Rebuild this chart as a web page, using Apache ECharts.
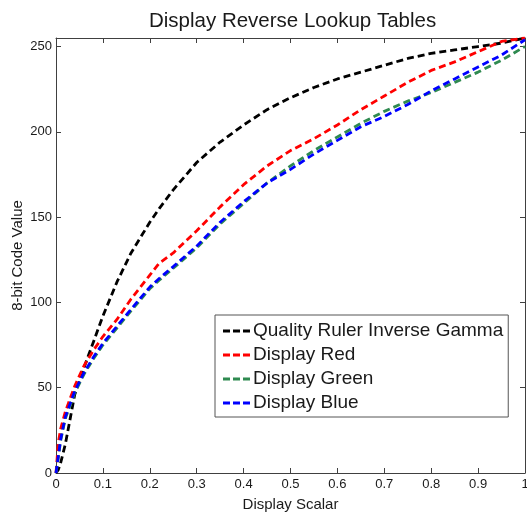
<!DOCTYPE html>
<html>
<head>
<meta charset="utf-8">
<script src="https://cdn.jsdelivr.net/npm/echarts@6/dist/echarts.min.js"></script>
<style>
  html, body { margin: 0; padding: 0; background: #fff; }
  #chart { width: 527px; height: 513px; }
</style>
</head>
<body>
<div id="chart"></div>
<script>
// display scalar (x) values shared by all curves
var scalar = [0, 0.005, 0.01, 0.02, 0.04, 0.06, 0.08, 0.1, 0.13, 0.16, 0.2, 0.22, 0.25, 0.3,
  0.35, 0.4, 0.45, 0.5, 0.55, 0.6, 0.65, 0.7, 0.75, 0.8, 0.85, 0.9, 0.95, 1];

// 8-bit code values
var gammaInv = [0, 2, 6, 17, 46, 62, 77, 92, 112, 129, 147, 155, 166, 182,
  194, 204, 213, 220, 226, 231, 235, 239, 243, 246, 248, 250, 252, 255];
var red = [0, 18, 26, 36, 51, 63, 72, 80, 90, 102, 116, 123, 129, 142,
  156, 169, 180, 189, 196, 204, 213, 221, 229, 236, 241, 247, 253, 255];
var green = [0, 9, 19, 32, 47, 58, 67, 75, 85, 95, 108, 113, 120, 132,
  146, 158, 170, 180, 189, 197, 205, 212, 218, 223, 229, 235, 242, 250];
var blue = [0, 10, 20, 33, 48, 59, 68, 76, 86, 96, 109, 114, 121, 133,
  147, 159, 170, 178, 187, 195, 203, 209, 216, 224, 231, 238, 245, 254];

var names = ['Quality Ruler Inverse Gamma', 'Display Red', 'Display Green', 'Display Blue'];
var colors = ['#000000', '#ff0000', '#2f8a50', '#0000ff'];

var FONT = '"Liberation Sans", Arial, sans-serif';
var AXIS_COLOR = '#404040';

function pairs(xs, ys) {
  var out = [];
  for (var i = 0; i < xs.length; i++) out.push([xs[i], ys[i]]);
  return out;
}

function dashedLine(name, color, ys) {
  return {
    name: name,
    type: 'line',
    data: pairs(scalar, ys),
    showSymbol: false,
    symbol: 'none',
    smooth: false,
    lineStyle: { color: color, width: 2.8, type: [7, 4] },
    itemStyle: { color: color }
  };
}

function xAxisOpt(pos, labels) {
  return {
    type: 'value',
    position: pos,
    min: 0,
    max: 1,
    interval: 0.1,
    name: labels ? 'Display Scalar' : '',
    nameLocation: 'middle',
    nameGap: 24,
    nameMoveOverlap: false,
    nameTextStyle: { fontFamily: FONT, fontSize: 15, color: '#1a1a1a' },
    axisLine: { show: true, onZero: false, lineStyle: { color: AXIS_COLOR, width: 1 } },
    axisTick: { show: true, inside: true, length: 5, lineStyle: { color: AXIS_COLOR } },
    axisLabel: {
      show: labels,
      margin: 5,
      fontFamily: FONT,
      fontSize: 13,
      color: '#1a1a1a',
      formatter: function (v) { return +v.toFixed(1) + ''; }
    },
    splitLine: { show: false }
  };
}

function yAxisOpt(pos, labels) {
  return {
    type: 'value',
    position: pos,
    min: 0,
    max: 255,
    interval: 50,
    name: labels ? '8-bit Code Value' : '',
    nameLocation: 'middle',
    nameGap: 31,
    nameMoveOverlap: false,
    nameTextStyle: { fontFamily: FONT, fontSize: 15, color: '#1a1a1a' },
    axisLine: { show: true, onZero: false, lineStyle: { color: AXIS_COLOR, width: 1 } },
    axisTick: {
      show: true, inside: true, length: 5, lineStyle: { color: AXIS_COLOR },
      interval: function (i, v) { return v % 50 === 0; }
    },
    axisLabel: {
      show: labels,
      margin: 4,
      fontFamily: FONT,
      fontSize: 13,
      color: '#1a1a1a',
      showMaxLabel: false,
      formatter: function (v) { return v % 50 === 0 ? v + '' : ''; }
    },
    splitLine: { show: false }
  };
}

var option = {
  animation: false,
  backgroundColor: '#fff',
  title: {
    text: 'Display Reverse Lookup Tables',
    left: 144,
    top: 6,
    textStyle: { fontFamily: FONT, fontSize: 20.5, fontWeight: 'normal', color: '#1a1a1a' }
  },
  grid: { left: 56, right: 2, top: 38, bottom: 40, containLabel: false, outerBoundsMode: 'none' },
  legend: {
    orient: 'vertical',
    left: 215,
    top: 315,
    padding: [6, 5, 4, 8],
    itemGap: 4,
    itemWidth: 27,
    itemHeight: 3,
    selectedMode: false,
    backgroundColor: '#fff',
    borderColor: '#555',
    borderWidth: 1,
    borderRadius: 0,
    icon: 'path://M0 0H7V3H0Z M10 0H17V3H10Z M20 0H27V3H20Z',
    textStyle: { fontFamily: FONT, fontSize: 19, lineHeight: 20, color: '#1a1a1a', padding: [0, 0, 0, -2] },
    data: names
  },
  xAxis: [xAxisOpt('bottom', true), xAxisOpt('top', false)],
  yAxis: [yAxisOpt('left', true), yAxisOpt('right', false)],
  series: [
    dashedLine(names[0], colors[0], gammaInv),
    dashedLine(names[1], colors[1], red),
    dashedLine(names[2], colors[2], green),
    dashedLine(names[3], colors[3], blue)
  ]
};

var chart = echarts.init(document.getElementById('chart'), null, { renderer: 'canvas' });
chart.setOption(option);
</script>
</body>
</html>
